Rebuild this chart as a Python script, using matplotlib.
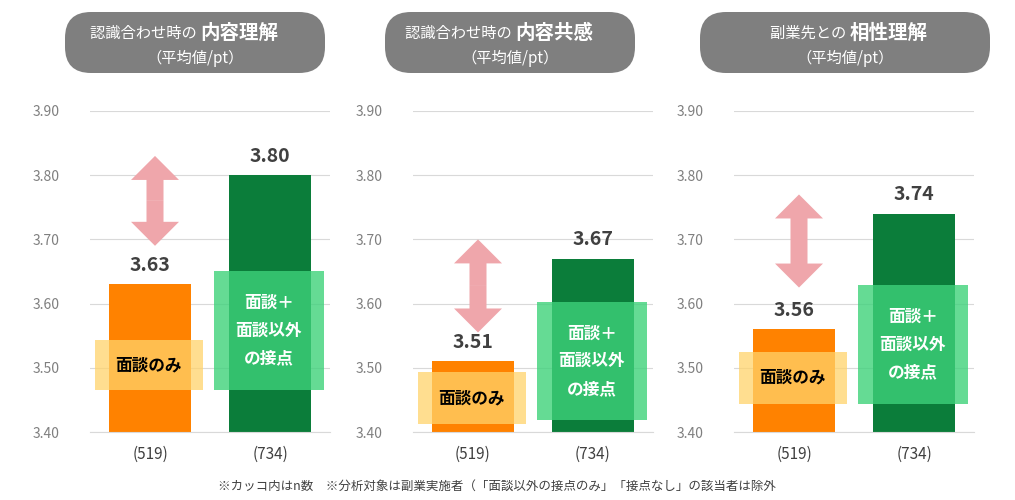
import matplotlib.pyplot as plt
from matplotlib.patches import FancyBboxPatch, Rectangle, FancyArrow

plt.rcParams["font.family"] = "Noto Sans CJK JP"

titles_small = ["認識合わせ時の", "認識合わせ時の", "副業先との"]
titles_bold = ["内容理解", "内容共感", "相性理解"]
only_interview = [3.63, 3.51, 3.56]
with_contact = [3.80, 3.67, 3.74]
counts = ["(519)", "(734)"]
yticks = [3.40, 3.50, 3.60, 3.70, 3.80, 3.90]

W, H = 1015, 500
fig = plt.figure(figsize=(W / 100, H / 100), dpi=100)

# overlay in pixel coordinates for title pills and arrows
ov = fig.add_axes([0, 0, 1, 1], zorder=10)
ov.set_xlim(0, W)
ov.set_ylim(H, 0)
ov.axis("off")

ax_left = [90, 413, 734]
pill = [(45, 345), (365, 655), (680, 1010)]
orange_box = [(3.465, 3.543), (3.412, 3.493), (3.444, 3.525)]
green_box = [(3.465, 3.651), (3.419, 3.602), (3.444, 3.629)]
arrows = [(3.69, 3.83), (3.555, 3.70), (3.625, 3.77)]


def to_px(x_left, yval):
    return H - (432 - 111) * 0 - (432 - (yval - 3.40) / 0.5 * (432 - 111)) * 0 - (H - 432 + (yval - 3.40) / 0.5 * (432 - 111))


for i in range(3):
    ax = fig.add_axes([ax_left[i] / W, (H - 432) / H, 240 / W, (432 - 111) / H])
    ax.set_xlim(-0.5, 1.5)
    ax.set_ylim(3.40, 3.90)
    ax.bar([0, 1], [only_interview[i] - 3.40, with_contact[i] - 3.40], bottom=3.40,
           width=0.68, color=["#FF8200", "#0B7D3A"], zorder=2)
    ax.set_yticks(yticks)
    ax.set_yticklabels([f"{v:.2f}" for v in yticks], color="#7F7F7F", fontsize=10)
    ax.yaxis.set_tick_params(length=0, pad=22)
    ax.set_xticks([])
    ax.grid(axis="y", color="#D9D9D9", lw=0.8, zorder=0)
    for s in ax.spines.values():
        s.set_visible(False)
    ax.spines["bottom"].set_visible(True)
    ax.spines["bottom"].set_color("#D9D9D9")

    for x, v in zip([0, 1], [only_interview[i], with_contact[i]]):
        ax.text(x, v + 0.015, f"{v:.2f}", ha="center", va="bottom",
                fontsize=14, fontweight="bold", color="#404040")
    for x, c in zip([0, 1], counts):
        ax.text(x, 3.365, c, ha="center", va="center", fontsize=11, color="#404040")

    y0, y1 = orange_box[i]
    ax.add_patch(Rectangle((-0.46, y0), 0.9, y1 - y0, color="#FFD36B", alpha=0.75, zorder=3, lw=0))
    ax.text(-0.01, (y0 + y1) / 2, "面談のみ", ha="center", va="center",
            fontsize=12, fontweight="bold", color="#000000", zorder=4)
    y0, y1 = green_box[i]
    ax.add_patch(Rectangle((0.53, y0), 0.92, y1 - y0, color="#3ED27A", alpha=0.8, zorder=3, lw=0))
    ax.text(0.99, (y0 + y1) / 2, "面談＋\n面談以外\nの接点", ha="center", va="center",
            fontsize=12, fontweight="bold", color="white", linespacing=1.7, zorder=4)

    # double arrow, drawn in pixel space
    a0, a1 = arrows[i]
    py0 = 432 - (a0 - 3.40) / 0.5 * (432 - 111)
    py1 = 432 - (a1 - 3.40) / 0.5 * (432 - 111)
    pxa = ax_left[i] + 65
    mid = (py0 + py1) / 2
    for tip in (py0, py1):
        ov.add_patch(FancyArrow(pxa, mid, 0, tip - mid, width=17, head_width=48,
                                head_length=24, length_includes_head=True,
                                color="#EFA6AB", lw=0))

    # title pill
    px0, px1 = pill[i]
    ov.add_patch(FancyBboxPatch((px0 + 20, 12), px1 - px0 - 40, 61,
                                boxstyle="round,pad=0,rounding_size=26",
                                color="#7F7F7F", lw=0))
    cx = (px0 + px1) / 2 + 5
    ov.text(cx, 33, titles_small[i] + " ", ha="right", va="center",
            fontsize=11, color="white")
    ov.text(cx, 33, titles_bold[i], ha="left", va="center",
            fontsize=14, fontweight="bold", color="white")
    ov.text(cx - 5, 58, "（平均値/pt）", ha="center", va="center",
            fontsize=11, color="white")

ov.text(497, 486,
        "※カッコ内はn数　※分析対象は副業実施者（「面談以外の接点のみ」「接点なし」の該当者は除外",
        ha="center", va="center", fontsize=9, color="#404040")

fig.savefig("out.png", dpi=100)
